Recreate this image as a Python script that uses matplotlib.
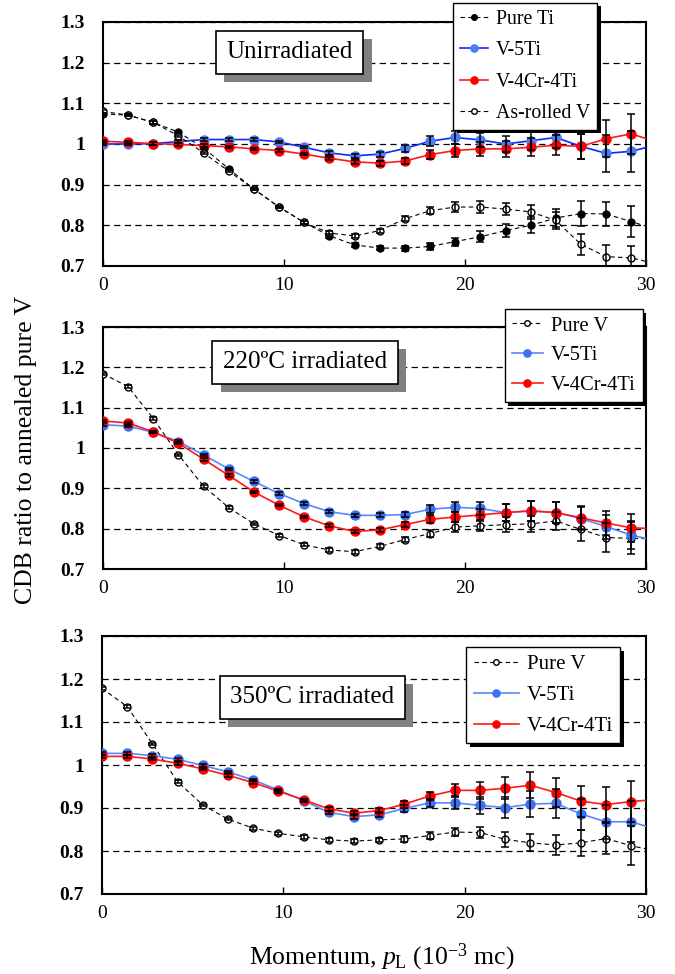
import matplotlib
matplotlib.use('Agg')
import matplotlib.pyplot as plt
import matplotlib.patheffects as pe

plt.rcParams['font.family'] = ['Liberation Serif', 'DejaVu Serif']
plt.rcParams['mathtext.fontset'] = 'custom'
plt.rcParams['mathtext.rm'] = 'Liberation Serif'
plt.rcParams['mathtext.it'] = 'Liberation Serif:italic'

# momentum bins (10^-3 mc), last one falls just outside the axis
momentum = [0, 1.39, 2.78, 4.17, 5.56, 6.95, 8.34, 9.73, 11.12, 12.51, 13.90, 15.29,
            16.68, 18.07, 19.46, 20.85, 22.24, 23.63, 25.02, 26.41, 27.80, 29.19, 30.58]

# --- unirradiated ---
un_pure_ti = [1.074, 1.071, 1.053, 1.029, 0.990, 0.939, 0.889, 0.845, 0.807, 0.774, 0.752, 0.744,
              0.744, 0.748, 0.760, 0.772, 0.787, 0.800, 0.818, 0.829, 0.828, 0.809, 0.790]
un_pure_ti_err = [0.003, 0.003, 0.003, 0.003, 0.003, 0.003, 0.003, 0.003, 0.004, 0.004, 0.005, 0.005,
                  0.006, 0.008, 0.010, 0.013, 0.016, 0.020, 0.022, 0.030, 0.030, 0.038, 0.040]
un_v5ti = [1.000, 1.000, 1.001, 1.006, 1.011, 1.011, 1.011, 1.005, 0.992, 0.978, 0.971, 0.975,
           0.989, 1.007, 1.016, 1.010, 1.000, 1.008, 1.016, 0.994, 0.977, 0.982, 0.998]
un_v4cr = [1.007, 1.004, 1.001, 0.999, 0.996, 0.993, 0.988, 0.984, 0.975, 0.965, 0.956, 0.953,
           0.958, 0.974, 0.984, 0.988, 0.988, 0.992, 0.997, 0.994, 1.013, 1.025, 1.005]
un_alloy_err = [0.003, 0.003, 0.003, 0.003, 0.003, 0.003, 0.003, 0.003, 0.003, 0.004, 0.005, 0.006,
                0.008, 0.012, 0.015, 0.018, 0.020, 0.022, 0.025, 0.030, 0.045, 0.050, 0.050]
un_rolled_v = [1.080, 1.071, 1.053, 1.020, 0.978, 0.933, 0.889, 0.845, 0.807, 0.781, 0.774, 0.787,
               0.816, 0.836, 0.845, 0.845, 0.840, 0.833, 0.812, 0.753, 0.723, 0.720, 0.705]
un_rolled_v_err = [0.003, 0.003, 0.003, 0.003, 0.003, 0.003, 0.003, 0.003, 0.004, 0.004, 0.005, 0.005,
                   0.006, 0.008, 0.012, 0.014, 0.015, 0.018, 0.020, 0.026, 0.029, 0.030, 0.030]

# --- 220 C irradiated ---
i220_pure_v = [1.184, 1.152, 1.073, 0.983, 0.905, 0.852, 0.812, 0.783, 0.760, 0.747, 0.743, 0.756,
               0.773, 0.788, 0.804, 0.807, 0.810, 0.812, 0.819, 0.798, 0.778, 0.776, 0.775]
i220_pure_v_err = [0.003, 0.003, 0.003, 0.003, 0.003, 0.003, 0.003, 0.003, 0.004, 0.004, 0.005, 0.005,
                   0.006, 0.008, 0.012, 0.014, 0.018, 0.020, 0.022, 0.028, 0.035, 0.040, 0.040]
i220_v5ti = [1.058, 1.054, 1.039, 1.016, 0.983, 0.948, 0.917, 0.887, 0.862, 0.842, 0.833, 0.833,
             0.835, 0.848, 0.853, 0.850, 0.840, 0.844, 0.840, 0.825, 0.805, 0.784, 0.770]
i220_v4cr = [1.067, 1.062, 1.040, 1.012, 0.972, 0.932, 0.891, 0.858, 0.829, 0.807, 0.793, 0.797,
             0.810, 0.823, 0.829, 0.834, 0.840, 0.844, 0.840, 0.827, 0.814, 0.802, 0.800]
i220_alloy_err = [0.003, 0.003, 0.003, 0.003, 0.003, 0.003, 0.003, 0.003, 0.003, 0.004, 0.004, 0.005,
                  0.006, 0.010, 0.012, 0.015, 0.020, 0.024, 0.025, 0.028, 0.030, 0.035, 0.035]

# --- 350 C irradiated ---
i350_pure_v = [1.178, 1.136, 1.049, 0.961, 0.907, 0.874, 0.853, 0.841, 0.833, 0.826, 0.823, 0.826,
               0.828, 0.836, 0.844, 0.843, 0.827, 0.819, 0.814, 0.819, 0.829, 0.812, 0.800]
i350_pure_v_err = [0.003, 0.003, 0.003, 0.003, 0.003, 0.003, 0.003, 0.003, 0.004, 0.004, 0.005, 0.005,
                   0.006, 0.008, 0.010, 0.012, 0.018, 0.020, 0.024, 0.030, 0.035, 0.045, 0.045]
i350_v5ti = [1.027, 1.027, 1.022, 1.013, 0.999, 0.984, 0.965, 0.942, 0.917, 0.890, 0.880, 0.884,
             0.899, 0.912, 0.912, 0.906, 0.901, 0.909, 0.911, 0.886, 0.868, 0.868, 0.850]
i350_v4cr = [1.020, 1.020, 1.014, 1.004, 0.991, 0.976, 0.959, 0.939, 0.919, 0.898, 0.888, 0.894,
             0.909, 0.928, 0.941, 0.941, 0.946, 0.953, 0.936, 0.916, 0.908, 0.915, 0.920]
i350_alloy_err = [0.003, 0.003, 0.003, 0.003, 0.003, 0.003, 0.003, 0.003, 0.003, 0.004, 0.005, 0.006,
                  0.008, 0.010, 0.015, 0.020, 0.025, 0.030, 0.034, 0.036, 0.040, 0.048, 0.050]

yticks = [0.7, 0.8, 0.9, 1.0, 1.1, 1.2, 1.3]
ytick_labels = ['0.7', '0.8', '0.9', '1', '1.1', '1.2', '1.3']
xticks = [0, 10, 20, 30]

dash = (0, (4, 3))
filled_black = dict(color='black', ls=dash, lw=0.8, marker='o', ms=5, mfc='black', mec='black')
open_black = dict(color='black', ls=dash, lw=0.8, marker='o', ms=5, mfc='white', mec='black', mew=1.0)
blue_dark = dict(color='#0a2aff', lw=1.2, marker='o', ms=6.5, mfc='#4a7cf5', mec='#4a7cf5')
blue_light = dict(color='#5a86ff', lw=1.2, marker='o', ms=6.5, mfc='#3d6ff0', mec='#3d6ff0')
red = dict(color='#ff1a1a', lw=1.2, marker='o', ms=6.5, mfc='#ff0000', mec='#ff0000')

W, H = 675, 974
fig = plt.figure(figsize=(W / 100, H / 100), dpi=100)


def px_axes(left, top, right, bottom):
    return fig.add_axes([left / W, 1 - bottom / H, (right - left) / W, (bottom - top) / H])


def draw_panel(ax, series, title, title_xy, leg_xy, handlelen, legsize, legspace):
    for label, y, err, style in series:
        ax.plot(momentum, y, label=label, zorder=4, **style)
        ax.errorbar(momentum, y, yerr=err, fmt='none', ecolor='black', elinewidth=1.1,
                    capsize=3, capthick=1.1, zorder=5)
    ax.set_xlim(0, 30)
    ax.set_ylim(0.7, 1.3)
    ax.set_xticks(xticks)
    ax.set_yticks(yticks)
    ax.set_yticklabels(ytick_labels)
    ax.tick_params(axis='x', direction='in', length=5, width=1, pad=8, labelsize=14)
    ax.tick_params(axis='y', length=0, pad=13, labelsize=14)
    for lbl in ax.get_yticklabels():
        lbl.set_fontweight('bold')
    ax.grid(axis='y', color='black', lw=0.9, ls=(0, (5, 3.5)))
    ax.set_axisbelow(True)
    for sp in ax.spines.values():
        sp.set_linewidth(1.5)

    t = ax.text(title_xy[0], title_xy[1], title, transform=ax.transAxes, ha='center', va='center',
                fontsize=18, zorder=8,
                bbox=dict(boxstyle='square,pad=0.42', fc='white', ec='black', lw=1.2))
    t.get_bbox_patch().set_path_effects([pe.withSimplePatchShadow(offset=(6, -6),
                                                                  shadow_rgbFace='#808080', alpha=1.0)])

    leg = ax.legend(loc='upper left', bbox_to_anchor=leg_xy, fontsize=legsize, frameon=True,
                    fancybox=False, edgecolor='black', framealpha=1, handlelength=handlelen,
                    labelspacing=legspace, borderpad=0.35, handletextpad=0.4, borderaxespad=0,
                    markerscale=0.8)
    leg.get_frame().set_linewidth(1.0)
    leg.get_frame().set_path_effects([pe.withSimplePatchShadow(offset=(2.5, -2.5),
                                                               shadow_rgbFace='black', alpha=1.0)])
    leg.set_zorder(10)


ax1 = px_axes(103, 22, 646, 266)
draw_panel(ax1, [('Pure Ti', un_pure_ti, un_pure_ti_err, filled_black),
                 ('V-5Ti', un_v5ti, un_alloy_err, blue_dark),
                 ('V-4Cr-4Ti', un_v4cr, un_alloy_err, red),
                 ('As-rolled V', un_rolled_v, un_rolled_v_err, open_black)],
           'Unirradiated', (0.344, 0.877), (0.645, 1.078), 1.4, 14.3, 0.62)

ax2 = px_axes(103, 327, 646, 569)
draw_panel(ax2, [('Pure V', i220_pure_v, i220_pure_v_err, open_black),
                 ('V-5Ti', i220_v5ti, i220_alloy_err, blue_light),
                 ('V-4Cr-4Ti', i220_v4cr, i220_alloy_err, red)],
           '220ºC irradiated', (0.372, 0.855), (0.740, 1.074), 1.5, 14.8, 0.5)

ax3 = px_axes(102, 636, 646, 894)
draw_panel(ax3, [('Pure V', i350_pure_v, i350_pure_v_err, open_black),
                 ('V-5Ti', i350_v5ti, i350_alloy_err, blue_light),
                 ('V-4Cr-4Ti', i350_v4cr, i350_alloy_err, red)],
           '350ºC irradiated', (0.387, 0.762), (0.670, 0.957), 2.15, 15, 0.55)

fig.text(26 / W, 1 - 450 / H, 'CDB ratio to annealed pure V', rotation=90,
         ha='center', va='center', fontsize=18.5)
fig.text(382 / W, 1 - 957 / H, r'Momentum, $p_\mathrm{L}$ (10$^{-3}$ mc)',
         ha='center', va='center', fontsize=18.5)

fig.savefig('out.png', dpi=100)
